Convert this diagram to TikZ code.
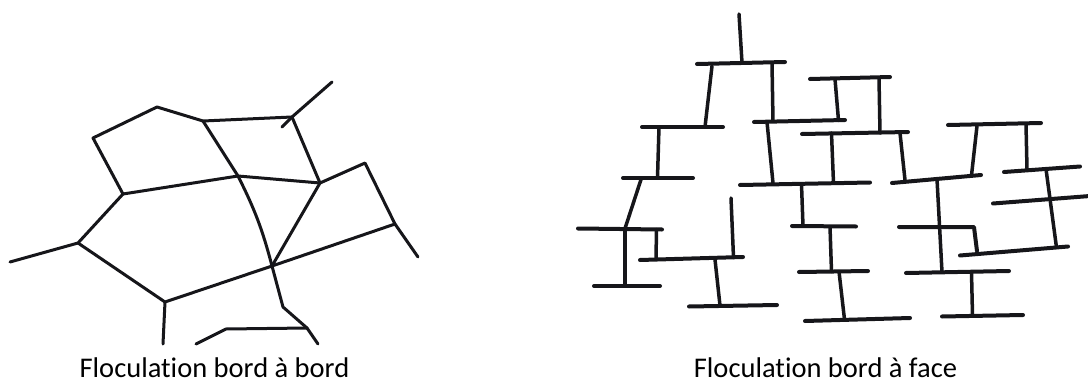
\documentclass[tikz,border=0pt]{standalone}
\usepackage{fontspec}
\setmainfont{Carlito}[Ligatures=NoCommon]
\definecolor{ink}{RGB}{22,22,26}
\begin{document}
\begin{tikzpicture}[x=1pt,y=-1pt,
  edge/.style={line width=3.0pt, draw=ink, line cap=round, line join=round},
  plate/.style={line width=4.0pt, draw=ink, line cap=round, line join=round},
  stem/.style={line width=3.5pt, draw=ink, line cap=round, line join=round},
  caption/.style={font=\fontsize{28.5}{34}\selectfont, anchor=base, inner sep=0pt,
    text depth=0pt, text=black}]
\useasboundingbox (0,0) rectangle (1088,383);

% ---------- edge-to-edge network ----------
\coordinate (A) at (157,107);
\coordinate (B) at (93,138);
\coordinate (C) at (203,121);
\coordinate (D) at (292,117);
\coordinate (Dend) at (332,82);
\coordinate (Dtail) at (282,127);
\coordinate (E) at (123,194);
\coordinate (F) at (238,176);
\coordinate (G) at (320,183);
\coordinate (H) at (365,163);
\coordinate (I) at (395,224);
\coordinate (Iend) at (418,257);
\coordinate (J) at (78,243);
\coordinate (Jend) at (10,262);
\coordinate (K) at (272,266);
\coordinate (L) at (165,302);
\coordinate (Lb) at (163,344);
\coordinate (M) at (283,307);
\coordinate (N) at (307,328);
\coordinate (Nb) at (318,344);
\coordinate (O) at (226,329);
\coordinate (Ob) at (196,344);

\draw[edge] (E) -- (B) -- (A) -- (C) -- (D) -- (Dend);
\draw[edge] (D) -- (Dtail);
\draw[edge] (C) -- (F) -- (G) -- (H) -- (I) -- (Iend);
\draw[edge] (E) -- (F);
\draw[edge] (D) -- (G) -- (K);
\draw[edge] (F) to[bend left=6] (K);
\draw[edge] (Jend) -- (J) -- (E);
\draw[edge] (J) -- (L) -- (K) -- (I);
\draw[edge] (L) -- (Lb);
\draw[edge] (K) -- (M) -- (N) -- (Nb);
\draw[edge] (N) -- (O) -- (Ob);

% ---------- edge-to-face stacking ----------
% plates
\coordinate (p1a) at (697,64);   \coordinate (p1b) at (785,62);
\coordinate (p2a) at (642,127);  \coordinate (p2b) at (723,127);
\coordinate (p3a) at (623,178);  \coordinate (p3b) at (693,178);
\coordinate (p4a) at (754,122);  \coordinate (p4b) at (845,120);
\coordinate (p5a) at (740,185);  \coordinate (p5b) at (870,182.5);
\coordinate (q1a) at (810,79);   \coordinate (q1b) at (890,77);
\coordinate (q2a) at (802,134);  \coordinate (q2b) at (908,132);
\coordinate (r1a) at (948,125);  \coordinate (r1b) at (1041,123);
\coordinate (r2a) at (1004,172); \coordinate (r2b) at (1080,166.5);
\coordinate (sa) at (892,183);   \coordinate (sb) at (981,175);
\coordinate (t1a) at (578,228.5);\coordinate (t1b) at (662,229.5);
\coordinate (t2a) at (594,286);  \coordinate (t2b) at (660,286);
\coordinate (u1a) at (640,260);  \coordinate (u1b) at (743,257);
\coordinate (u2a) at (689,306.5);\coordinate (u2b) at (777,305);
\coordinate (v1a) at (792,226);  \coordinate (v1b) at (856,226.5);
\coordinate (v2a) at (799,272);  \coordinate (v2b) at (868,271);
\coordinate (v3a) at (805,321);  \coordinate (v3b) at (910,318);
\coordinate (w1a) at (899,227);  \coordinate (w1b) at (974,227);
\coordinate (w1c) at (977,251);
\coordinate (xa) at (960,255.5); \coordinate (xb) at (1068,246.5);
\coordinate (ya) at (993,203.5); \coordinate (yb) at (1090,196);
\coordinate (w2a) at (906,273);  \coordinate (w2b) at (1009,271);
\coordinate (w3a) at (942,316.5);\coordinate (w3b) at (1023,315);

\foreach \pl in {p1,p2,p3,p4,p5,q1,q2,r1,r2,s,t1,t2,u1,u2,v1,v2,v3,x,y,w2,w3}
  \draw[plate] (\pl a) -- (\pl b);
\draw[plate] (w1a) -- (w1b) -- (w1c);

% stems joining the plates
\coordinate (s0a) at (739,14);    \coordinate (s0b) at (742,62.5);
\coordinate (s1a) at (712,66);    \coordinate (s1b) at (705,127);
\coordinate (s2a) at (772,63);    \coordinate (s2b) at (773,121);
\coordinate (s3a) at (835,79);    \coordinate (s3b) at (838.5,120.5);
\coordinate (s4a) at (879,78);    \coordinate (s4b) at (880,133);
\coordinate (s5a) at (659,127);   \coordinate (s5b) at (657.5,178);
\coordinate (s6a) at (767,122);   \coordinate (s6b) at (773,183);
\coordinate (s7a) at (831.5,133); \coordinate (s7b) at (833.5,183);
\coordinate (s8a) at (900,133);   \coordinate (s8b) at (905,180);
\coordinate (s9a) at (977,126);   \coordinate (s9b) at (971.5,175.5);
\coordinate (s10a) at (1026,124); \coordinate (s10b) at (1027,169);
\coordinate (s11a) at (641.5,178);\coordinate (s11b) at (625,228.5);
\coordinate (s12a) at (625,228.5);\coordinate (s12b) at (625,286);
\coordinate (s13a) at (656.5,229.5);\coordinate (s13b) at (656,259);
\coordinate (s14a) at (731,198);  \coordinate (s14b) at (733.5,257.5);
\coordinate (s15a) at (715,259.5);\coordinate (s15b) at (720,305.5);
\coordinate (s16a) at (801.5,184);\coordinate (s16b) at (803,226);
\coordinate (s17a) at (830,226.5);\coordinate (s17b) at (831.5,271.5);
\coordinate (s18a) at (839,271.5);\coordinate (s18b) at (844.5,319.5);
\coordinate (s19a) at (937,179);  \coordinate (s19b) at (942,272);
\coordinate (s20a) at (1046,169); \coordinate (s20b) at (1056.5,247.5);
\coordinate (s21a) at (971.5,272);\coordinate (s21b) at (972.5,315.5);

\foreach \k in {0,...,21}
  \draw[stem] (s\k a) -- (s\k b);

% ---------- captions (kern keeps "t" and "i" as separate glyphs) ----------
\node[caption] (capL) at (214.5,377) {Floculat\kern0pt ion bord à bord};
\node[caption] (capR) at (825.5,377) {Floculat\kern0pt ion bord à face};
\end{tikzpicture}
\end{document}
